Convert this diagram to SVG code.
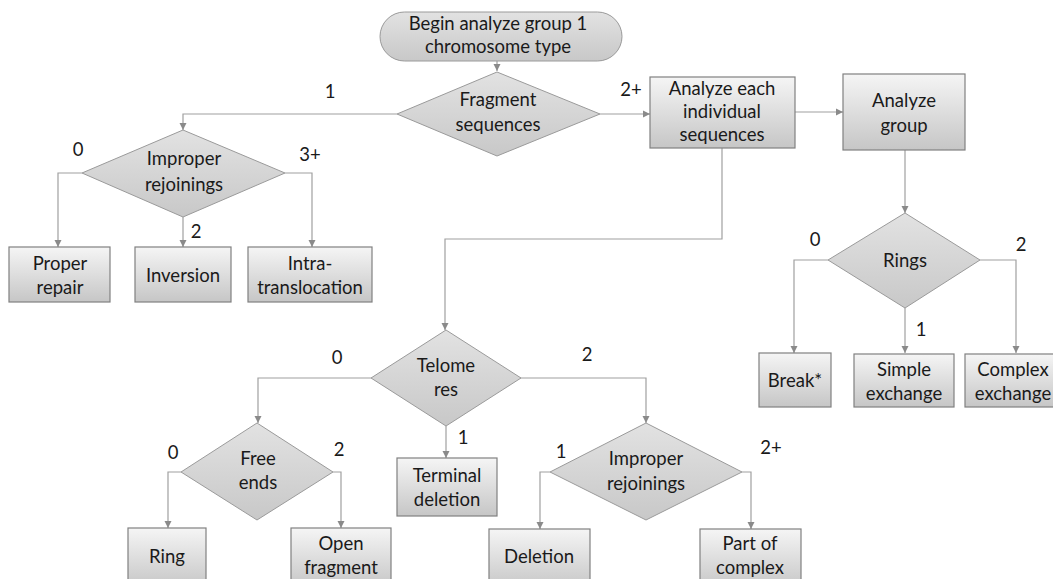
<svg xmlns="http://www.w3.org/2000/svg" width="1053" height="579" viewBox="0 0 1053 579">
<defs>
<linearGradient id="gBox" x1="0" y1="0" x2="0" y2="1">
<stop offset="0" stop-color="#f5f5f5"/>
<stop offset="1" stop-color="#c6c6c6"/>
</linearGradient>
<linearGradient id="gDia" x1="0" y1="0" x2="0" y2="1">
<stop offset="0" stop-color="#e2e2e2"/>
<stop offset="1" stop-color="#c8c8c8"/>
</linearGradient>
<marker id="arr" markerWidth="8" markerHeight="8" refX="7" refY="4" orient="auto" markerUnits="userSpaceOnUse">
<path d="M0,0.5 L7,4 L0,7.5 Z" fill="#8a8a8a"/>
</marker>
<style>
.box{fill:url(#gBox);stroke:#808080;stroke-width:1.2}
.dia{fill:url(#gDia);stroke:#9a9a9a;stroke-width:1}
.t{font-family:Lato,"Open Sans",sans-serif;font-size:18.5px;fill:#1a1a1a;text-anchor:middle}
.lbl{font-family:Lato,"Open Sans",sans-serif;font-size:18.5px;fill:#1a1a1a;text-anchor:middle}
.c{fill:none;stroke:#a0a0a0;stroke-width:1.2;marker-end:url(#arr)}
</style>
</defs>
<rect width="1053" height="579" fill="#ffffff"/>

<g id="connectors">
<path class="c" d="M497,61 V71"/>
<path class="c" d="M397,114 H183 V130"/>
<path class="c" d="M82,173 H58 V247"/>
<path class="c" d="M183,217 V247"/>
<path class="c" d="M285,173 H312 V247"/>
<path class="c" d="M600,114 H650"/>
<path class="c" d="M795,112 H843"/>
<path class="c" d="M905,150 V213"/>
<path class="c" d="M828,260 H794 V353"/>
<path class="c" d="M905,308 V353"/>
<path class="c" d="M980,260 H1016 V353"/>
<path class="c" d="M722,148 V239 H445 V330"/>
<path class="c" d="M371,378 H258 V423"/>
<path class="c" d="M446,426 V458"/>
<path class="c" d="M520,378 H646 V423"/>
<path class="c" d="M181,472 H168 V528"/>
<path class="c" d="M333,472 H341 V528"/>
<path class="c" d="M550,472 H540 V529"/>
<path class="c" d="M742,472 H751 V529"/>
<text class="lbl" x="330" y="98">1</text>
<text class="lbl" x="631" y="96">2+</text>
<text class="lbl" x="78" y="156">0</text>
<text class="lbl" x="310" y="161">3+</text>
<text class="lbl" x="196" y="238">2</text>
<text class="lbl" x="815" y="246">0</text>
<text class="lbl" x="1021" y="251">2</text>
<text class="lbl" x="921" y="336">1</text>
<text class="lbl" x="337" y="364">0</text>
<text class="lbl" x="587" y="361">2</text>
<text class="lbl" x="463" y="444">1</text>
<text class="lbl" x="173" y="459">0</text>
<text class="lbl" x="339" y="456">2</text>
<text class="lbl" x="561" y="458">1</text>
<text class="lbl" x="771" y="454">2+</text>
</g>

<g id="begin">
<rect x="380" y="12" width="242" height="49" rx="24.5" ry="24.5" class="dia"/>
<text class="t" x="498" y="30">Begin analyze group 1</text>
<text class="t" x="498" y="53">chromosome type</text>
</g>

<g id="fragment">
<polygon class="dia" points="497,72 600,114 497,156 397,114"/>
<text class="t" x="498" y="106">Fragment</text>
<text class="t" x="498" y="131">sequences</text>
</g>

<g id="improper1">
<polygon class="dia" points="183,130 285,173 183,217 82,173"/>
<text class="t" x="184" y="165">Improper</text>
<text class="t" x="184" y="191">rejoinings</text>
</g>

<g id="proper-repair">
<rect class="box" x="9" y="247" width="101" height="55"/>
<text class="t" x="60" y="270">Proper</text>
<text class="t" x="60" y="294">repair</text>
</g>

<g id="inversion">
<rect class="box" x="135" y="247" width="96" height="55"/>
<text class="t" x="183" y="282">Inversion</text>
</g>

<g id="intra">
<rect class="box" x="248" y="247" width="124" height="55"/>
<text class="t" x="310" y="270">Intra-</text>
<text class="t" x="310" y="294">translocation</text>
</g>

<g id="analyze-each">
<rect class="box" x="650" y="77" width="145" height="71"/>
<text class="t" x="722" y="95">Analyze each</text>
<text class="t" x="722" y="118">individual</text>
<text class="t" x="722" y="141">sequences</text>
</g>

<g id="analyze-group">
<rect class="box" x="843" y="74" width="122" height="76"/>
<text class="t" x="904" y="107">Analyze</text>
<text class="t" x="904" y="132">group</text>
</g>

<g id="rings">
<polygon class="dia" points="905,213 980,260 905,308 828,260"/>
<text class="t" x="905" y="267">Rings</text>
</g>

<g id="break">
<rect class="box" x="759" y="353" width="72" height="54"/>
<text class="t" x="795" y="387">Break*</text>
</g>

<g id="simple">
<rect class="box" x="854" y="354" width="100" height="53"/>
<text class="t" x="904" y="376">Simple</text>
<text class="t" x="904" y="400">exchange</text>
</g>

<g id="complex">
<rect class="box" x="965" y="354" width="100" height="53"/>
<text class="t" x="1013" y="376">Complex</text>
<text class="t" x="1013" y="400">exchange</text>
</g>

<g id="telomeres">
<polygon class="dia" points="446,330 521,378 446,426 371,378"/>
<text class="t" x="446" y="372">Telome</text>
<text class="t" x="446" y="396">res</text>
</g>

<g id="free-ends">
<polygon class="dia" points="257,423 333,472 257,520 181,472"/>
<text class="t" x="258" y="465">Free</text>
<text class="t" x="258" y="489">ends</text>
</g>

<g id="terminal">
<rect class="box" x="397" y="458" width="100" height="58"/>
<text class="t" x="447" y="482">Terminal</text>
<text class="t" x="447" y="506">deletion</text>
</g>

<g id="improper2">
<polygon class="dia" points="646,423 742,472 646,520 550,472"/>
<text class="t" x="646" y="465">Improper</text>
<text class="t" x="646" y="490">rejoinings</text>
</g>

<g id="ring">
<rect class="box" x="128" y="528" width="78" height="60"/>
<text class="t" x="167" y="563">Ring</text>
</g>

<g id="open-fragment">
<rect class="box" x="291" y="528" width="100" height="60"/>
<text class="t" x="341" y="550">Open</text>
<text class="t" x="341" y="574">fragment</text>
</g>

<g id="deletion">
<rect class="box" x="489" y="529" width="101" height="60"/>
<text class="t" x="539" y="563">Deletion</text>
</g>

<g id="part-complex">
<rect class="box" x="700" y="529" width="101" height="60"/>
<text class="t" x="750" y="550">Part of</text>
<text class="t" x="750" y="574">complex</text>
</g>
</svg>
